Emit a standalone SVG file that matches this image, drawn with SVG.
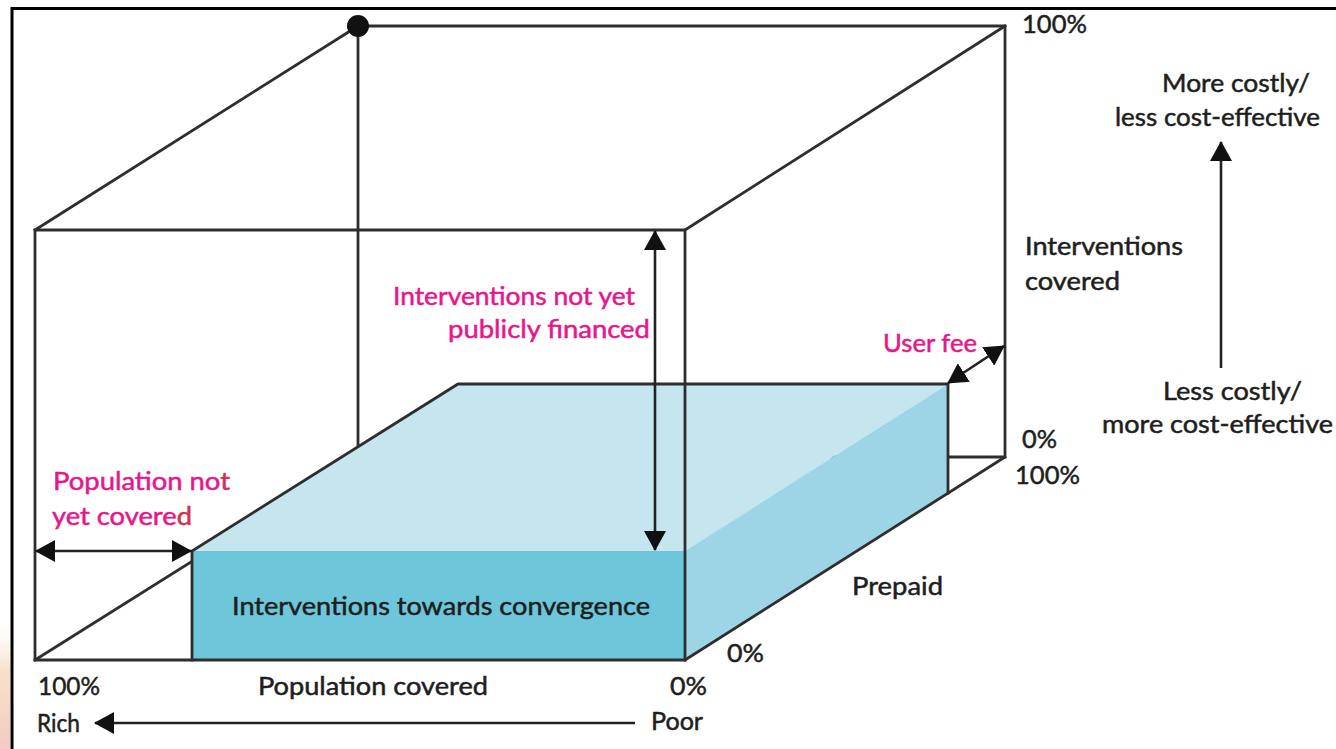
<svg xmlns="http://www.w3.org/2000/svg" width="1336" height="749" viewBox="0 0 1336 749">
<style>
.edge{stroke:#2e2e2e;stroke-width:2.8;fill:none;stroke-linecap:square}
.arr{stroke:#222;stroke-width:2.6;fill:none}
.t{font-family:Lato,"Open Sans","Liberation Sans",sans-serif;font-size:25px;fill:#1e1e1e;stroke:#1e1e1e;stroke-width:0.5}
.p{fill:#e8168b;stroke:#e8168b}
</style>
<defs>
<marker id="ah" viewBox="0 0 20 22" refX="19" refY="11" markerWidth="20" markerHeight="22" markerUnits="userSpaceOnUse" orient="auto-start-reverse">
<path d="M0,0 L20,11 L0,22 z" fill="#111"/>
</marker>
<linearGradient id="strip" x1="0" y1="0" x2="0" y2="1">
<stop offset="0" stop-color="#ffffff" stop-opacity="0"/>
<stop offset="0.4" stop-color="#f8e2cc"/>
<stop offset="1" stop-color="#f2cbc2"/>
</linearGradient>
</defs>
<rect width="1336" height="749" fill="#fff"/>
<g id="frame">
<rect x="0" y="615" width="10" height="134" fill="url(#strip)"/>
<path d="M12,749 L12,8.5 L1336,8.5" fill="none" stroke="#000" stroke-width="3"/>
</g>
<g id="cube-back">
<path class="edge" d="M358,26 L358,446"/>
<path class="edge" d="M358,26 L1005,26 L1005,457 L358,457"/>
<path class="edge" d="M35,660 L358,457"/>
</g>
<g id="box">
<polygon points="192,551 685,551 948,384 458,384" fill="#c5e5ef"/>
<polygon points="685,551 948,384 948,493 685,660" fill="#9dd5e6"/>
<rect x="192" y="551" width="493" height="109" fill="#6ec6db"/>
<path class="edge" d="M192,660 L192,551 L458,384 L948,384 L948,493"/>
</g>
<g id="cube-front">
<path class="edge" d="M35,660 L35,230 L685,230 L685,660 Z"/>
<path class="edge" d="M35,230 L358,26"/>
<path class="edge" d="M685,230 L1005,26"/>
<path class="edge" d="M685,660 L1005,457"/>
<circle cx="358" cy="26" r="11" fill="#111"/>
</g>
<g id="connectors">
<path class="arr" d="M655,231 L655,550" marker-start="url(#ah)" marker-end="url(#ah)"/>
<path class="arr" d="M36,551 L191,551" marker-start="url(#ah)" marker-end="url(#ah)"/>
<path class="arr" d="M948,383 L1004,346" marker-start="url(#ah)" marker-end="url(#ah)"/>
<path class="arr" d="M635,723 L95,723" marker-end="url(#ah)"/>
<path class="arr" d="M1221,368 L1221,142" marker-end="url(#ah)"/>
</g>
<g id="labels">
<text class="t" x="1022" y="33" textLength="65" lengthAdjust="spacingAndGlyphs">100%</text>
<text class="t" x="1162" y="92" textLength="148" lengthAdjust="spacingAndGlyphs">More costly/</text>
<text class="t" x="1115" y="126" textLength="205" lengthAdjust="spacingAndGlyphs">less cost-effective</text>
<text class="t" x="1025" y="255" textLength="158" lengthAdjust="spacingAndGlyphs">Interventions</text>
<text class="t" x="1025" y="290" textLength="95" lengthAdjust="spacingAndGlyphs">covered</text>
<text class="t" x="1163" y="400" textLength="139" lengthAdjust="spacingAndGlyphs">Less costly/</text>
<text class="t" x="1102" y="433" textLength="231" lengthAdjust="spacingAndGlyphs">more cost-effective</text>
<text class="t" x="1022" y="448" textLength="35" lengthAdjust="spacingAndGlyphs">0%</text>
<text class="t" x="1015" y="484" textLength="65" lengthAdjust="spacingAndGlyphs">100%</text>
<text class="t p" x="883" y="352" textLength="94" lengthAdjust="spacingAndGlyphs">User fee</text>
<text class="t" x="852" y="595" textLength="91" lengthAdjust="spacingAndGlyphs">Prepaid</text>
<text class="t" x="727" y="662" textLength="37" lengthAdjust="spacingAndGlyphs">0%</text>
<text class="t" x="670" y="695" textLength="37" lengthAdjust="spacingAndGlyphs">0%</text>
<text class="t" x="651" y="730" textLength="52" lengthAdjust="spacingAndGlyphs">Poor</text>
<text class="t" x="38" y="695" textLength="62" lengthAdjust="spacingAndGlyphs">100%</text>
<text class="t" x="37" y="732" textLength="43" lengthAdjust="spacingAndGlyphs">Rich</text>
<text class="t" x="258" y="695" textLength="230" lengthAdjust="spacingAndGlyphs">Population covered</text>
<text class="t" x="232" y="615" textLength="418" lengthAdjust="spacingAndGlyphs">Interventions towards convergence</text>
<text class="t p" x="53" y="490" textLength="177" lengthAdjust="spacingAndGlyphs">Population no<tspan fill="#d2304e" stroke="#d2304e">t</tspan></text>
<text class="t p" x="52" y="525" textLength="140" lengthAdjust="spacingAndGlyphs">yet covere<tspan fill="#d2304e" stroke="#d2304e">d</tspan></text>
<text class="t p" x="393" y="305" textLength="242" lengthAdjust="spacingAndGlyphs">Interventions not yet</text>
<text class="t p" x="448" y="338" textLength="202" lengthAdjust="spacingAndGlyphs">publicly financed</text>
</g>
</svg>
